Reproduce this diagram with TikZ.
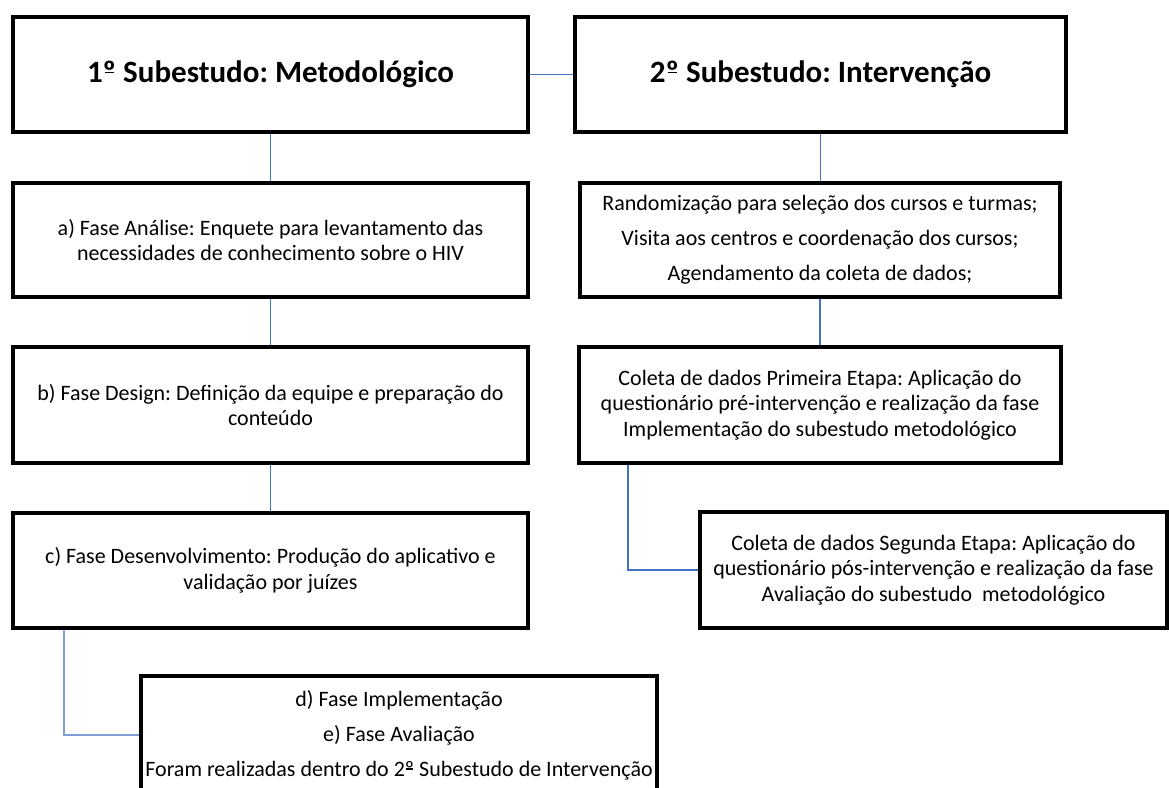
\documentclass[tikz,border=0pt]{standalone}
\usepackage{fontspec}
\setmainfont{Carlito}
\usetikzlibrary{backgrounds}
\definecolor{conn}{HTML}{4472C4}
\definecolor{connlight}{HTML}{7F9FD6}
\newcommand{\ordbar}{\ooalign{º\cr\hidewidth\raisebox{0.30em}{\rule{0.30em}{0.055em}}\hidewidth\cr}}
\frenchspacing
\begin{document}
\begin{tikzpicture}[x=1pt,y=-1pt,
  box/.style={draw=black, line width=3.8pt, inner sep=0pt, outer sep=0pt, align=center,
              font=\fontsize{22}{25.5}\selectfont, text=black},
  titlebox/.style={box, font=\fontsize{31}{37}\selectfont\bfseries},
  widelines/.style={font=\fontsize{22}{35}\selectfont},
  link/.style={draw=conn, line width=1.2pt},
  lightlink/.style={draw=connlight, line width=1.2pt}]
\useasboundingbox (0,0) rectangle (1169,787);
\clip (0,0) rectangle (1169,787);

\node[titlebox, minimum width=515pt, minimum height=115pt] (box1) at (270.5,74.5) {1\ordbar{} Subestudo: Metodológico};
\node[titlebox, minimum width=491pt, minimum height=115pt] (box2) at (820.5,74.5) {2\ordbar{} Subestudo: Intervenção};

\node[box, minimum width=515pt, minimum height=114pt] (boxA) at (270.5,240)
  {a) Fase Análise: Enquete para levantamento das\\necessidades de conhecimento sobre o HIV};
\node[box, widelines, minimum width=480pt, minimum height=114pt] (boxR1) at (820,240)
  {Randomização para seleção dos cursos e turmas;\\Visita aos centros e coordenação dos cursos;\\Agendamento da coleta de dados;};

\node[box, minimum width=515pt, minimum height=116pt] (boxB) at (270.5,405)
  {b) Fase Design: Definição da equipe e preparação do\\conteúdo};
\node[box, minimum width=482pt, minimum height=116pt] (boxC1) at (820,405)
  {Coleta de dados Primeira Etapa: Aplicação do\\questionário pré-intervenção e realização da fase\\Implementação do subestudo metodológico};

\node[box, minimum width=515pt, minimum height=115pt] (boxC) at (270.5,570.5)
  {c) Fase Desenvolvimento: Produção do aplicativo e\\validação por juízes};
\node[box, minimum width=467pt, minimum height=116pt] (boxC2) at (933.5,570)
  {Coleta de dados Segunda Etapa: Aplicação do\\questionário pós-intervenção e realização da fase\\Avaliação do subestudo~ metodológico};

\node[box, widelines, minimum width=516pt, minimum height=118pt] (boxD) at (399,735)
  {d) Fase Implementação\\e) Fase Avaliação\\Foram realizadas dentro do 2\ordbar{} Subestudo de Intervenção};

\coordinate (cx) at (64,0);
\coordinate (cx2) at (628,0);

\begin{pgfonlayer}{background}
\draw[link] (box1.east) -- (box2.west);
\draw[link] (box1.south) -- (boxA.north);
\draw[link] (boxA.south) -- (boxB.north);
\draw[link] (boxB.south) -- (boxC.north);
\draw[link] (box2.south) -- (box2.south |- boxR1.north);
\draw[link] (boxR1.south) -- (boxC1.north);
\draw[lightlink] (cx |- boxC.south) |- (boxD.west);
\draw[link] (cx2 |- boxC1.south) |- (boxC2.west);
\end{pgfonlayer}
\end{tikzpicture}
\end{document}
